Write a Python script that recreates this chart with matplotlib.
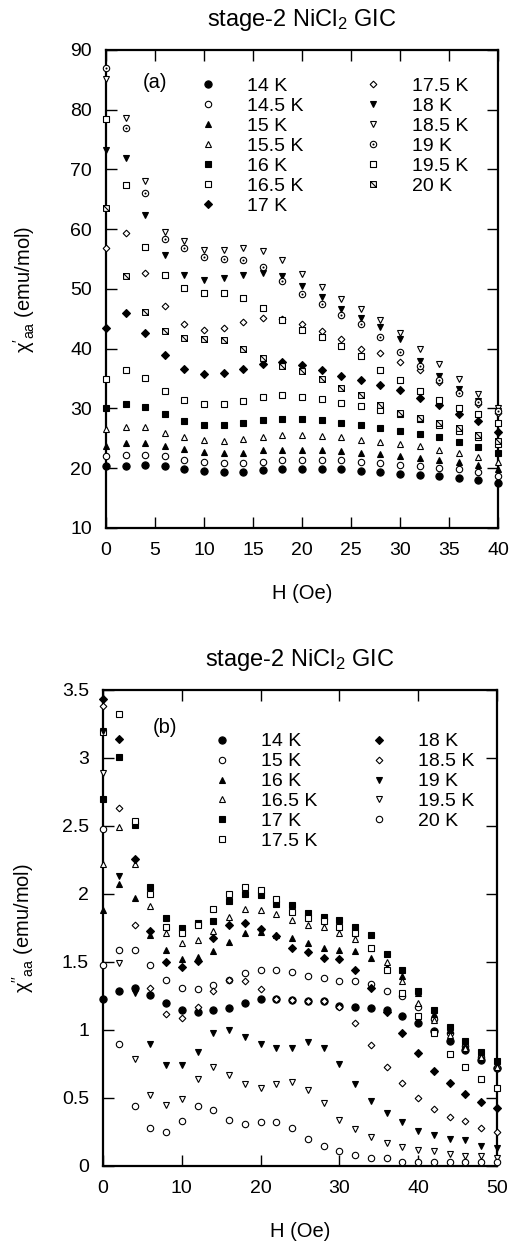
import matplotlib
matplotlib.use("Agg")
import matplotlib.pyplot as plt
from matplotlib.path import Path

plt.rcParams['font.family'] = ['Liberation Sans', 'DejaVu Sans']
plt.rcParams['mathtext.fontset'] = 'custom'
plt.rcParams['mathtext.rm'] = 'Liberation Sans'
plt.rcParams['mathtext.it'] = 'Liberation Sans:italic'

# --- panel (a): chi'_aa vs H ---
h_a = [0, 2, 4, 6, 8, 10, 12, 14, 16, 18, 20, 22, 24, 26, 28, 30, 32, 34, 36, 38, 40]
temps_a = ['14 K', '14.5 K', '15 K', '15.5 K', '16 K', '16.5 K', '17 K',
           '17.5 K', '18 K', '18.5 K', '19 K', '19.5 K', '20 K']
chi_14 = [20.3, 20.4, 20.5, 20.3, 19.9, 19.6, 19.4, 19.4, 19.7, 19.8, 19.8, 19.8, 19.8, 19.6, 19.3, 19.1, 18.9, 18.7, 18.3, 18.0, 17.5]
chi_145 = [22.0, 22.2, 22.2, 22.0, 21.3, 21.1, 20.9, 20.9, 21.1, 21.3, 21.4, 21.4, 21.4, 21.1, 20.8, 20.6, 20.3, 20.1, 19.8, 19.3, 18.7]
chi_15 = [23.8, 24.2, 24.2, 23.7, 23.2, 22.7, 22.6, 22.6, 23.0, 23.1, 23.1, 23.0, 22.8, 22.6, 22.3, 22.0, 21.7, 21.3, 21.0, 20.5, 19.8]
chi_155 = [26.5, 26.9, 26.9, 25.9, 25.3, 24.8, 24.6, 24.9, 25.3, 25.5, 25.5, 25.4, 25.2, 24.8, 24.4, 24.0, 23.7, 23.0, 22.5, 21.8, 21.0]
chi_16 = [30.0, 30.8, 30.3, 29.0, 27.9, 27.3, 27.3, 27.6, 28.0, 28.3, 28.3, 28.0, 27.6, 27.2, 26.8, 26.2, 25.8, 25.2, 24.4, 23.6, 22.6]
chi_165 = [34.9, 36.4, 35.1, 33.0, 31.5, 30.8, 30.8, 31.3, 31.9, 32.2, 32.0, 31.6, 30.9, 30.4, 29.8, 29.0, 28.2, 27.3, 26.3, 25.2, 24.0]
chi_17 = [43.4, 45.9, 42.7, 38.9, 36.6, 35.8, 36.0, 36.6, 37.4, 37.8, 37.3, 36.4, 35.5, 34.7, 33.9, 33.1, 31.8, 30.5, 29.0, 27.9, 26.0]
chi_175 = [56.8, 59.3, 52.6, 47.1, 44.1, 43.1, 43.4, 44.4, 45.1, 45.0, 44.1, 43.0, 41.6, 39.9, 39.3, 37.8, 36.4, 34.5, 32.7, 30.8, 29.2]
chi_18 = [73.3, 72.0, 62.4, 55.7, 52.4, 51.5, 51.8, 52.4, 52.7, 52.1, 50.5, 48.7, 46.6, 45.2, 43.7, 41.7, 38.0, 35.5, 33.2, 31.3, 29.5]
chi_185 = [85.1, 78.6, 68.0, 59.6, 58.0, 56.5, 56.5, 56.8, 56.3, 54.9, 52.5, 50.3, 48.4, 46.6, 44.8, 42.7, 39.9, 37.4, 34.9, 32.4, 30.0]
chi_19 = [86.9, 76.9, 66.1, 58.3, 56.8, 55.4, 55.0, 54.9, 53.6, 51.4, 49.2, 47.4, 45.7, 44.2, 42.0, 39.4, 37.1, 34.7, 32.6, 31.0, 29.5]
chi_195 = [78.4, 67.4, 57.1, 52.4, 50.1, 49.3, 49.3, 48.5, 46.8, 44.8, 43.2, 42.0, 40.4, 38.7, 36.5, 34.7, 32.9, 31.5, 30.1, 29.0, 27.5]
chi_20 = [63.6, 52.1, 46.1, 43.0, 41.8, 41.7, 41.4, 40.0, 38.5, 37.1, 36.3, 34.9, 33.5, 32.2, 30.6, 29.3, 28.4, 27.6, 26.8, 25.6, 24.5]
series_a = [chi_14, chi_145, chi_15, chi_155, chi_16, chi_165, chi_17,
            chi_175, chi_18, chi_185, chi_19, chi_195, chi_20]

# --- panel (b): chi''_aa vs H ---
h_b = [0, 2, 4, 6, 8, 10, 12, 14, 16, 18, 20, 22, 24, 26, 28, 30, 32, 34, 36, 38, 40, 42, 44, 46, 48, 50]
temps_b = ['14 K', '15 K', '16 K', '16.5 K', '17 K', '17.5 K',
           '18 K', '18.5 K', '19 K', '19.5 K', '20 K']
chi2_14 = [1.23, 1.29, 1.31, 1.26, 1.20, 1.15, 1.13, 1.15, 1.16, 1.20, 1.23, 1.23, 1.22, 1.21, 1.21, 1.18, 1.17, 1.16, 1.15, 1.10, 1.05, 0.99, 0.92, 0.85, 0.78, 0.72]
chi2_15 = [1.48, 1.59, 1.59, 1.48, 1.37, 1.31, 1.30, 1.33, 1.37, 1.42, 1.44, 1.44, 1.43, 1.40, 1.38, 1.36, 1.36, 1.34, 1.29, 1.25, 1.17, 1.08, 0.98, 0.88, 0.80, 0.72]
chi2_16 = [1.88, 2.07, 1.97, 1.70, 1.59, 1.52, 1.54, 1.58, 1.65, 1.71, 1.72, 1.70, 1.68, 1.64, 1.60, 1.59, 1.58, 1.53, 1.46, 1.40, 1.27, 1.12, 1.00, 0.89, 0.81, 0.73]
chi2_165 = [2.22, 2.49, 2.22, 1.91, 1.71, 1.64, 1.66, 1.73, 1.83, 1.89, 1.88, 1.85, 1.81, 1.77, 1.76, 1.71, 1.67, 1.60, 1.50, 1.36, 1.20, 1.07, 0.96, 0.87, 0.80, 0.73]
chi2_17 = [2.70, 3.01, 2.51, 2.05, 1.82, 1.75, 1.79, 1.80, 1.95, 2.00, 1.99, 1.93, 1.92, 1.86, 1.83, 1.81, 1.76, 1.70, 1.56, 1.44, 1.29, 1.15, 1.02, 0.92, 0.84, 0.77]
chi2_175 = [3.19, 3.32, 2.54, 2.00, 1.76, 1.71, 1.77, 1.89, 2.00, 2.05, 2.03, 1.96, 1.87, 1.82, 1.80, 1.76, 1.71, 1.60, 1.44, 1.27, 1.10, 0.98, 0.82, 0.73, 0.64, 0.57]
chi2_18 = [3.43, 3.14, 2.26, 1.73, 1.50, 1.46, 1.51, 1.68, 1.77, 1.79, 1.74, 1.69, 1.60, 1.57, 1.53, 1.52, 1.44, 1.31, 1.13, 0.98, 0.83, 0.70, 0.61, 0.53, 0.47, 0.43]
chi2_185 = [3.38, 2.63, 1.77, 1.31, 1.12, 1.09, 1.17, 1.29, 1.37, 1.36, 1.30, 1.23, 1.22, 1.21, 1.21, 1.17, 1.05, 0.89, 0.73, 0.61, 0.50, 0.42, 0.36, 0.33, 0.28, 0.25]
chi2_19 = [3.20, 2.13, 1.27, 0.90, 0.74, 0.74, 0.84, 0.98, 1.00, 0.95, 0.90, 0.87, 0.87, 0.91, 0.87, 0.75, 0.60, 0.48, 0.39, 0.32, 0.26, 0.23, 0.20, 0.19, 0.15, 0.13]
chi2_195 = [2.89, 1.49, 0.79, 0.52, 0.45, 0.49, 0.64, 0.73, 0.67, 0.60, 0.57, 0.60, 0.62, 0.56, 0.46, 0.34, 0.27, 0.21, 0.17, 0.14, 0.12, 0.11, 0.09, 0.07, 0.07, 0.06]
chi2_20 = [2.48, 0.90, 0.44, 0.28, 0.25, 0.33, 0.44, 0.41, 0.34, 0.31, 0.32, 0.32, 0.28, 0.20, 0.15, 0.11, 0.08, 0.06, 0.06, 0.03, 0.03, 0.03, 0.03, 0.03, 0.03, 0.03]
series_b = [chi2_14, chi2_15, chi2_16, chi2_165, chi2_17, chi2_175,
            chi2_18, chi2_185, chi2_19, chi2_195, chi2_20]

# custom markers: square with diagonal, square with dot, circle with dot
sq = [(-1, -1), (1, -1), (1, 1), (-1, 1), (-1, -1)]
sq_codes = [Path.MOVETO, Path.LINETO, Path.LINETO, Path.LINETO, Path.CLOSEPOLY]
hatch_sq = Path(sq + [(-1, 1), (1, -1)], sq_codes + [Path.MOVETO, Path.LINETO])
small = [(-0.15, -0.15), (0.15, -0.15), (0.15, 0.15), (-0.15, 0.15), (-0.15, -0.15)]
dot_sq = Path(sq + small, sq_codes + sq_codes)
dot_circ = Path.make_compound_path(Path.unit_circle(), Path.circle(radius=0.15))

# (marker, size, filled)
FC = ('o', 5.2, True)
OC = ('o', 4.6, False)
FT = ('^', 5.0, True)
OT = ('^', 5.0, False)
FS = ('s', 4.2, True)
OS = ('s', 4.2, False)
FD = ('D', 3.6, True)
OD = ('D', 3.4, False)
FV = ('v', 5.0, True)
OV = ('v', 5.0, False)
styles_a = [FC, OC, FT, OT, FS, OS, FD, OD, FV, OV,
            (dot_circ, 4.6, False), (dot_sq, 4.2, False), (hatch_sq, 4.2, False)]
styles_b = [FC, OC, FT, OT, FS, OS, FD, OD, FV, OV, OC]

fig = plt.figure(figsize=(5.13, 12.52), dpi=100)
ax_a = fig.add_axes([0.2066, 0.5783, 0.7641, 0.3818])
ax_b = fig.add_axes([0.2008, 0.0687, 0.7680, 0.3802])


def draw(ax, h, series, labels, styles):
    for vals, lab, (m, ms, filled) in zip(series, labels, styles):
        ax.plot(h, vals, linestyle='none', marker=m, ms=ms,
                mfc='black' if filled else 'white', mec='black', mew=0.8,
                clip_on=False, label=lab, zorder=3)


def style(ax):
    for s in ax.spines.values():
        s.set_linewidth(1.6)
    ax.tick_params(direction='in', length=8, width=1, top=True, right=True,
                   labelsize=14, pad=10)
    ax.set_title('stage-2 NiCl$_2$ GIC', fontsize=17, pad=17)
    ax.set_xlabel('H (Oe)', fontsize=14.5, labelpad=18)


draw(ax_a, h_a, series_a, temps_a, styles_a)
style(ax_a)
ax_a.set_xlim(0, 40)
ax_a.set_ylim(10, 90)
ax_a.set_xticks(range(0, 41, 5))
ax_a.set_yticks(range(10, 91, 10))
ax_a.set_ylabel(r"$\mathregular{\chi'_{aa}}$ (emu/mol)", fontsize=14.5)
ax_a.yaxis.set_label_coords(-0.175, 0.5)
ax_a.text(0.125, 0.931, '(a)', transform=ax_a.transAxes, fontsize=14.5,
          ha='center', va='center')
ax_a.legend(ncol=2, loc='upper left', bbox_to_anchor=(0.235, 0.942),
            frameon=False, fontsize=14, handlelength=1.0, handletextpad=1.5,
            columnspacing=3.1, labelspacing=0.12, borderpad=0, borderaxespad=0)

draw(ax_b, h_b, series_b, temps_b, styles_b)
style(ax_b)
ax_b.set_xlim(0, 50)
ax_b.set_ylim(0, 3.5)
ax_b.set_xticks(range(0, 51, 10))
ax_b.set_yticks([0, 0.5, 1, 1.5, 2, 2.5, 3, 3.5])
ax_b.set_yticklabels(['0', '0.5', '1', '1.5', '2', '2.5', '3', '3.5'])
ax_b.set_ylabel(r"$\mathregular{\chi''_{aa}}$ (emu/mol)", fontsize=14.5)
ax_b.yaxis.set_label_coords(-0.17, 0.5)
ax_b.text(0.157, 0.922, '(b)', transform=ax_b.transAxes, fontsize=14.5,
          ha='center', va='center')
ax_b.legend(ncol=2, loc='upper left', bbox_to_anchor=(0.277, 0.91),
            frameon=False, fontsize=14, handlelength=1.0, handletextpad=1.5,
            columnspacing=2.7, labelspacing=0.12, borderpad=0, borderaxespad=0)

fig.savefig('out.png', dpi=100)
